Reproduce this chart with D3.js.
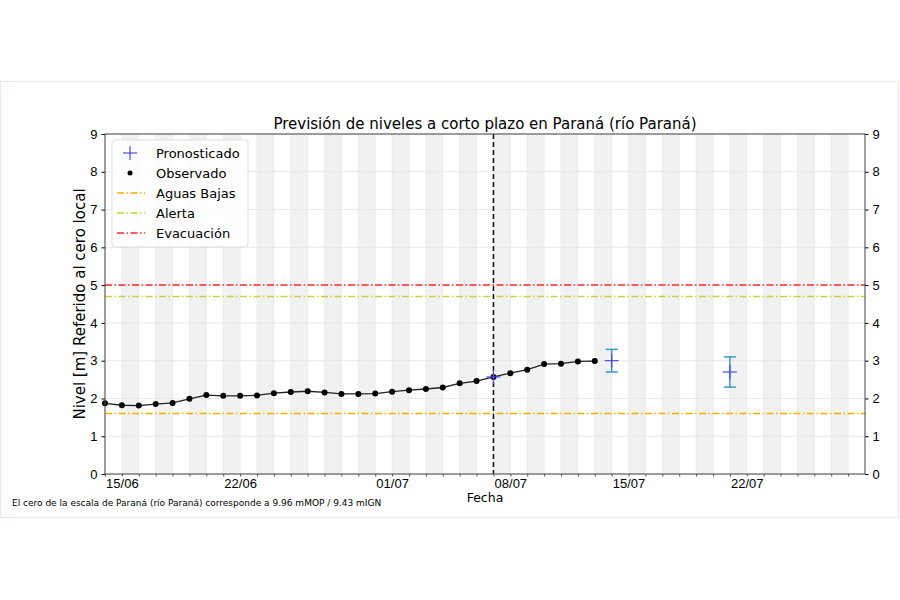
<!DOCTYPE html>
<html>
<head>
<meta charset="utf-8">
<script src="https://cdn.jsdelivr.net/npm/d3@7"></script>
<style>
  body { margin: 0; background: #fff; }
  svg { font-family: "DejaVu Sans", sans-serif; }
</style>
</head>
<body>
<svg id="chart" width="900" height="600"></svg>
<script>
// observed daily levels, starting 14/06
const obsStart = "2024-06-14";
const observed = [1.87, 1.82, 1.81, 1.85, 1.88, 1.99, 2.09, 2.07, 2.07, 2.08,
                  2.14, 2.17, 2.19, 2.16, 2.12, 2.12, 2.13, 2.18, 2.22, 2.25,
                  2.29, 2.40, 2.46, 2.57, 2.67, 2.76, 2.91, 2.92, 2.98, 2.99];

// forecast points
const fcDates = ["2024-07-07", "2024-07-14", "2024-07-21"];
const fcValues = [2.57, 3.0, 2.7];
const fcLow = [null, 2.7, 2.3];
const fcHigh = [null, 3.3, 3.1];

// reference levels
const levelNames = ["Aguas Bajas", "Alerta", "Evacuación"];
const levelValues = [1.6, 4.7, 5.0];
const levelColors = ["#f4ae00", "#c9d13c", "#ff2a2a"];

const tickDates = ["2024-06-15", "2024-06-22", "2024-07-01", "2024-07-08", "2024-07-15", "2024-07-22"];
const yTicks = [0, 1, 2, 3, 4, 5, 6, 7, 8, 9];
const forecastDay = "2024-07-07";

const parse = d3.utcParse("%Y-%m-%d");
const fmt = d3.utcFormat("%d/%m");

const svg = d3.select("#chart");
const margin = {left: 105, right: 35, top: 134, bottom: 126};
const W = 900, H = 600;
const innerW = W - margin.left - margin.right;
const innerH = H - margin.top - margin.bottom;

// figure border
svg.append("rect").attr("x", 0.5).attr("y", 81.5).attr("width", 898).attr("height", 436)
  .attr("fill", "none").attr("stroke", "#f9e4e4").attr("stroke-width", 1);

const x = d3.scaleUtc()
  .domain([parse("2024-06-14"), parse("2024-07-29")])
  .range([margin.left, W - margin.right]);
const y = d3.scaleLinear().domain([0, 9]).range([H - margin.bottom, margin.top]);

const days = d3.utcDay.range(parse("2024-06-14"), parse("2024-07-29"));

// alternating day bands
const g = svg.append("g");
g.selectAll("rect.band")
  .data(days.filter((d, i) => i % 2 === 1))
  .enter().append("rect")
  .attr("class", "band")
  .attr("x", d => x(d))
  .attr("y", margin.top)
  .attr("width", d => x(d3.utcDay.offset(d, 1)) - x(d))
  .attr("height", innerH)
  .attr("fill", "#f1f1f1");

// horizontal grid
g.selectAll("line.hgrid")
  .data(yTicks)
  .enter().append("line")
  .attr("x1", margin.left).attr("x2", W - margin.right)
  .attr("y1", d => y(d)).attr("y2", d => y(d))
  .attr("stroke", "#e4e4e4").attr("stroke-width", 0.8);

// vertical grid on every day
g.selectAll("line.vgrid")
  .data(days)
  .enter().append("line")
  .attr("x1", d => x(d)).attr("x2", d => x(d))
  .attr("y1", margin.top).attr("y2", H - margin.bottom)
  .attr("stroke", "#e6e6e6").attr("stroke-width", 0.7);

// reference lines
levelValues.forEach((v, i) => {
  svg.append("line")
    .attr("x1", margin.left).attr("x2", W - margin.right)
    .attr("y1", y(v)).attr("y2", y(v))
    .attr("stroke", levelColors[i]).attr("stroke-width", 1.5)
    .attr("stroke-dasharray", "7,2.5,1.5,2.5");
});

// observed series
const obsData = observed.map((v, i) => ({date: d3.utcDay.offset(parse(obsStart), i), value: v}));
svg.append("path")
  .datum(obsData)
  .attr("fill", "none").attr("stroke", "#222").attr("stroke-width", 1.3)
  .attr("d", d3.line().x(d => x(d.date)).y(d => y(d.value)));
svg.selectAll("circle.obs")
  .data(obsData)
  .enter().append("circle")
  .attr("cx", d => x(d.date)).attr("cy", d => y(d.value))
  .attr("r", 3).attr("fill", "#000");

// forecast cut line
svg.append("line")
  .attr("x1", x(parse(forecastDay))).attr("x2", x(parse(forecastDay)))
  .attr("y1", margin.top).attr("y2", H - margin.bottom)
  .attr("stroke", "#111").attr("stroke-width", 1.5)
  .attr("stroke-dasharray", "5,3");

// forecast with error bars
const fcData = fcDates.map((d, i) => ({date: parse(d), value: fcValues[i], lo: fcLow[i], hi: fcHigh[i]}));
const ebColor = "#3c98c6";
fcData.filter(d => d.lo !== null).forEach(d => {
  const cx = x(d.date);
  svg.append("line").attr("x1", cx).attr("x2", cx).attr("y1", y(d.lo)).attr("y2", y(d.hi))
    .attr("stroke", ebColor).attr("stroke-width", 1.5);
  [d.lo, d.hi].forEach(v => {
    svg.append("line").attr("x1", cx - 6).attr("x2", cx + 6).attr("y1", y(v)).attr("y2", y(v))
      .attr("stroke", ebColor).attr("stroke-width", 1.5);
  });
});
fcData.forEach(d => {
  const cx = x(d.date), cy = y(d.value);
  svg.append("line").attr("x1", cx - 7).attr("x2", cx + 7).attr("y1", cy).attr("y2", cy)
    .attr("stroke", "#4b4be8").attr("stroke-width", 1.2);
  svg.append("line").attr("x1", cx).attr("x2", cx).attr("y1", cy - 7).attr("y2", cy + 7)
    .attr("stroke", "#4b4be8").attr("stroke-width", 1.2);
});

// axes
const xAxis = d3.axisBottom(x).tickValues(tickDates.map(parse)).tickFormat(fmt).tickSize(0).tickPadding(5);
const xg = svg.append("g").attr("transform", `translate(0,${H - margin.bottom})`).call(xAxis);
xg.select(".domain").remove();
xg.selectAll("text").attr("font-size", 13).attr("fill", "#000");
svg.append("g").attr("transform", `translate(0,${H - margin.bottom})`)
  .call(d3.axisBottom(x).tickValues(days).tickFormat("").tickSize(2.5))
  .call(a => a.select(".domain").remove())
  .selectAll("line").attr("stroke", "#555");

const yl = svg.append("g").attr("transform", `translate(${margin.left},0)`)
  .call(d3.axisLeft(y).tickValues(yTicks).tickSize(3.5).tickPadding(4));
const yr = svg.append("g").attr("transform", `translate(${W - margin.right},0)`)
  .call(d3.axisRight(y).tickValues(yTicks).tickSize(3.5).tickPadding(4));
[yl, yr].forEach(a => {
  a.select(".domain").remove();
  a.selectAll("text").attr("font-size", 13).attr("fill", "#000");
});

// frame
svg.append("rect").attr("x", margin.left).attr("y", margin.top)
  .attr("width", innerW).attr("height", innerH)
  .attr("fill", "none").attr("stroke", "#444").attr("stroke-width", 1);

// title and labels
svg.append("text").attr("x", 485).attr("y", 129).attr("text-anchor", "middle")
  .attr("font-size", 15).text("Previsión de niveles a corto plazo en Paraná (río Paraná)");
svg.append("text").attr("transform", `translate(85,${margin.top + innerH / 2}) rotate(-90)`)
  .attr("text-anchor", "middle").attr("font-size", 15).text("Nivel [m] Referido al cero local");
svg.append("text").attr("x", 485).attr("y", 502).attr("text-anchor", "middle")
  .attr("font-size", 12.5).text("Fecha");
svg.append("text").attr("x", 12).attr("y", 506).attr("font-size", 9)
  .text("El cero de la escala de Paraná (río Paraná) corresponde a 9.96 mMOP / 9.43 mIGN");

// legend
const lg = svg.append("g").attr("transform", "translate(112,140)");
lg.append("rect").attr("width", 136).attr("height", 107).attr("rx", 3)
  .attr("fill", "#fff").attr("fill-opacity", 0.85).attr("stroke", "#ddd");
const legendItems = ["Pronosticado", "Observado"].concat(levelNames);
legendItems.forEach((name, i) => {
  const ly = 13 + i * 20;
  const row = lg.append("g").attr("transform", `translate(0,${ly})`);
  if (i === 0) {
    row.append("line").attr("x1", 11).attr("x2", 25).attr("y1", 0).attr("y2", 0).attr("stroke", "#4b4be8").attr("stroke-width", 1.2);
    row.append("line").attr("x1", 18).attr("x2", 18).attr("y1", -7).attr("y2", 7).attr("stroke", "#4b4be8").attr("stroke-width", 1.2);
  } else if (i === 1) {
    row.append("circle").attr("cx", 18).attr("cy", 0).attr("r", 2.5).attr("fill", "#000");
  } else {
    row.append("line").attr("x1", 5).attr("x2", 33).attr("y1", 0).attr("y2", 0)
      .attr("stroke", levelColors[i - 2]).attr("stroke-width", 1.3)
      .attr("stroke-dasharray", "7,2.5,1.5,2.5");
  }
  row.append("text").attr("x", 44).attr("y", 0).attr("dy", "0.35em")
    .attr("font-size", 13).text(name);
});
</script>
</body>
</html>
